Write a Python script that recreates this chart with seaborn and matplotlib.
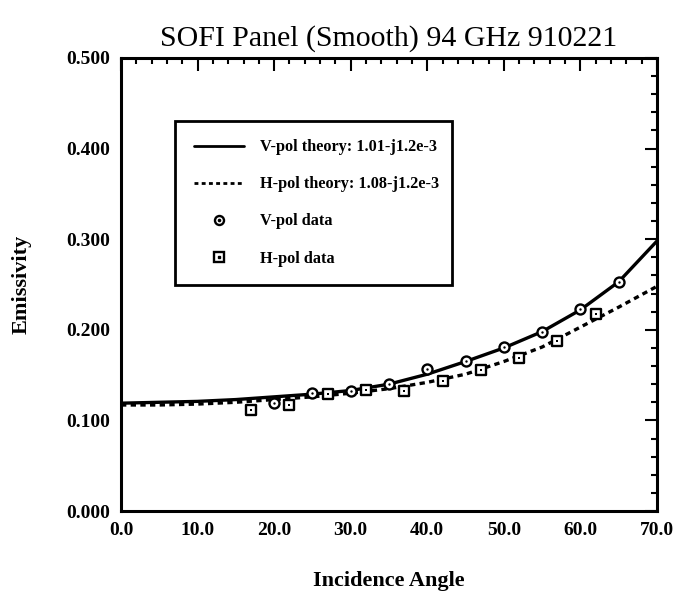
import matplotlib
matplotlib.use("Agg")
import matplotlib.pyplot as plt
import seaborn as sns
import pandas as pd
from matplotlib.lines import Line2D
from matplotlib.legend_handler import HandlerTuple
from matplotlib.ticker import MultipleLocator, FormatStrFormatter

# ---- data ----
theory_angle = [0, 5, 10, 15, 20, 25, 30, 35, 40, 45, 50, 55, 60, 65, 70]
v_theory = [0.119, 0.120, 0.121, 0.123, 0.126, 0.129, 0.133, 0.140, 0.151,
            0.165, 0.180, 0.198, 0.222, 0.253, 0.298]
h_theory = [0.117, 0.117, 0.118, 0.120, 0.123, 0.126, 0.130, 0.135, 0.142,
            0.151, 0.165, 0.181, 0.203, 0.225, 0.248]

v_angle = [20, 25, 30, 35, 40, 45, 50, 55, 60, 65]
v_data = [0.119, 0.130, 0.132, 0.140, 0.157, 0.166, 0.181, 0.198, 0.223, 0.253]
h_angle = [17, 22, 27, 32, 37, 42, 47, 52, 57, 62]
h_data = [0.111, 0.117, 0.129, 0.134, 0.133, 0.143, 0.156, 0.169, 0.188, 0.217]

labels = ["V-pol theory: 1.01-j1.2e-3", "H-pol theory: 1.08-j1.2e-3",
          "V-pol data", "H-pol data"]
title = "SOFI Panel (Smooth) 94 GHz 910221"
xlabel = "Incidence Angle"
ylabel = "Emissivity"

sns.set_theme(style="white")
plt.rcParams["font.family"] = ["Liberation Serif", "DejaVu Serif"]
plt.rcParams["text.color"] = "black"
plt.rcParams["axes.labelcolor"] = "black"
plt.rcParams["xtick.color"] = "black"
plt.rcParams["ytick.color"] = "black"

fig = plt.figure(figsize=(6.77, 6.02), dpi=100)
ax = fig.add_axes([121 / 677, 1 - 511 / 602, 536 / 677, 453 / 602])

th = pd.DataFrame({"angle": theory_angle, "v": v_theory, "h": h_theory})
vd = pd.DataFrame({"angle": v_angle, "val": v_data})
hd = pd.DataFrame({"angle": h_angle, "val": h_data})

sns.lineplot(data=th, x="angle", y="v", ax=ax, color="black", lw=2.4)
sns.lineplot(data=th, x="angle", y="h", ax=ax, color="black", lw=2.4,
             linestyle=(0, (1.6, 1.3)))

ms = 52
sns.scatterplot(data=vd, x="angle", y="val", ax=ax, marker="o", s=ms,
                facecolor="white", edgecolor="black", linewidth=1.7, zorder=5)
sns.scatterplot(data=vd, x="angle", y="val", ax=ax, marker="o", s=3,
                color="black", linewidth=0, zorder=6)
sns.scatterplot(data=hd, x="angle", y="val", ax=ax, marker="s", s=ms,
                facecolor="white", edgecolor="black", linewidth=1.7, zorder=5)
sns.scatterplot(data=hd, x="angle", y="val", ax=ax, marker="s", s=3,
                color="black", linewidth=0, zorder=6)

ax.set_xlim(0, 70)
ax.set_ylim(0, 0.5)
ax.xaxis.set_major_locator(MultipleLocator(10))
ax.xaxis.set_minor_locator(MultipleLocator(2))
ax.yaxis.set_major_locator(MultipleLocator(0.1))
ax.yaxis.set_minor_locator(MultipleLocator(0.02))
ax.xaxis.set_major_formatter(FormatStrFormatter("%.1f"))
ax.yaxis.set_major_formatter(FormatStrFormatter("%.3f"))
ax.tick_params(which="both", direction="in", top=True, right=True,
               color="black", width=1.5)
ax.tick_params(which="major", length=9, labelsize=14, pad=8)
ax.tick_params(which="minor", length=4)
for lab in ax.get_xticklabels() + ax.get_yticklabels():
    lab.set_fontweight("bold")
for sp in ax.spines.values():
    sp.set_color("black")
    sp.set_linewidth(2.2)

ax.set_xlabel(xlabel, fontsize=16, fontweight="bold", labelpad=23)
ax.set_ylabel(ylabel, fontsize=16, fontweight="bold", labelpad=25)
ax.set_title(title, fontsize=21.5, pad=9)

def mk(m):
    ring = Line2D([], [], marker=m, ls="none", markersize=6.5,
                  markerfacecolor="white", markeredgecolor="black",
                  markeredgewidth=1.7)
    dot = Line2D([], [], marker=m, ls="none", markersize=1.6, color="black")
    return (ring, dot)

handles = [Line2D([], [], color="black", lw=2.0),
           Line2D([], [], color="black", lw=2.0, linestyle=(0, (1.4, 1.2))),
           mk("o"), mk("s")]
leg = ax.legend(handles, labels, loc="upper left",
                bbox_to_anchor=(0.101, 0.862, 0.516, 0.0), mode="expand",
                borderaxespad=0, frameon=True, fancybox=False, shadow=False,
                handlelength=3.1, handletextpad=1.0, labelspacing=1.3,
                borderpad=1.15,
                handler_map={tuple: HandlerTuple(ndivide=1, pad=0)},
                prop={"weight": "bold", "size": 11.7})
leg.get_frame().set_edgecolor("black")
leg.get_frame().set_linewidth(2.0)
leg.get_frame().set_alpha(1)

fig.savefig("out.png", dpi=100)
